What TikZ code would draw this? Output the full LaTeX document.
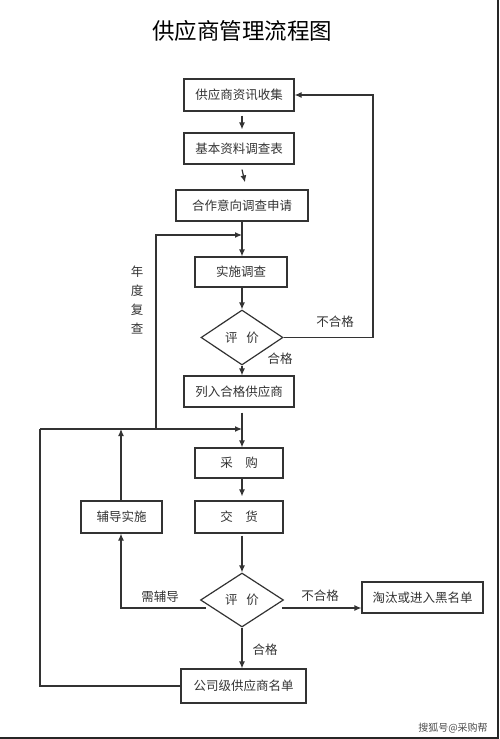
\documentclass[tikz,border=0pt]{standalone}
\usepackage{fontspec}
\setmainfont{Noto Sans CJK SC}
\usetikzlibrary{shapes.geometric,arrows.meta}
\definecolor{ink}{HTML}{333333}
\tikzset{
  box/.style={draw=ink, line width=1.2pt, rectangle, inner sep=0pt, text=ink, font=\fontsize{12.5}{14}\selectfont},
  dia/.style={draw=ink, line width=1.2pt, diamond, aspect=1.5, inner sep=0pt, minimum width=82pt, minimum height=55pt, text=ink, font=\fontsize{12.5}{14}\selectfont},
  lbl/.style={text=ink, inner sep=0pt, font=\fontsize{12.5}{14}\selectfont},
  conn/.style={draw=ink, line width=1.2pt},
  arr/.style={conn, -{Latex[length=7pt,width=6pt]}},
  frame/.style={draw=black!85, line width=1.6pt}
}
\begin{document}
\begin{tikzpicture}[x=1pt,y=-1pt]
\useasboundingbox (0,0) rectangle (499,739);
% frame edges
\coordinate (fr1) at (498,0);
\coordinate (fr2) at (498,738);
\coordinate (fr3) at (0,738);
\draw[frame] (fr1) -- (fr2) -- (fr3);
% title
\node[inner sep=0pt, font=\fontsize{22.5}{24}\selectfont] (title) at (242,31) {供应商管理流程图};
% nodes
\node[box, minimum width=110pt, minimum height=32pt] (b1) at (239,95) {供应商资讯收集};
\node[box, minimum width=110pt, minimum height=31pt] (b2) at (239,148.5) {基本资料调查表};
\node[box, minimum width=132pt, minimum height=31pt] (b3) at (242,205.5) {合作意向调查申请};
\node[box, minimum width=92pt, minimum height=30pt] (b4) at (241,272) {实施调查};
\node[dia] (d1) at (242,337.5) {评\hspace{0.7em}价};
\node[box, minimum width=110pt, minimum height=31pt] (b5) at (239,391.5) {列入合格供应商};
\node[box, minimum width=88pt, minimum height=30pt] (b6) at (239,463) {采\hspace{1em}购};
\node[box, minimum width=88pt, minimum height=32pt] (b7) at (239,517) {交\hspace{1em}货};
\node[box, minimum width=81pt, minimum height=32pt] (bf) at (121.5,517) {辅导实施};
\node[dia, minimum width=83pt, minimum height=54pt] (d2) at (242,600) {评\hspace{0.7em}价};
\node[box, minimum width=121pt, minimum height=31pt] (bt) at (422.5,597.5) {淘汰或进入黑名单};
\node[box, minimum width=125pt, minimum height=34pt] (bc) at (243.5,686) {公司级供应商名单};
% labels
\node[lbl] (l1) at (335,322) {不合格};
\node[lbl] (l2) at (280,359) {合格};
\node[lbl, align=center, font=\fontsize{12.5}{19}\selectfont] (l3) at (137,300.5) {年\\度\\复\\查};
\node[lbl] (l4) at (160,597) {需辅导};
\node[lbl] (l5) at (320,596) {不合格};
\node[lbl] (l6) at (265,650) {合格};
\node[inner sep=0pt, text=black!70, font=\fontsize{10}{12}\selectfont] (wm) at (453,728) {搜狐号@采购帮};
% helper coordinates
\coordinate (j1) at (242,235);
\coordinate (r1) at (373,337.5);
\coordinate (h0) at (40,429);
\coordinate (hy) at (156,429);
\coordinate (hf) at (121,429);
\coordinate (hj) at (242,429);
\coordinate (nf) at (121,608);
% connectors
\draw[arr] ([xshift=3pt,yshift=-4pt]b1.south) -- ([xshift=3pt,yshift=3pt]b2.north);
\draw[arr] ([xshift=3pt,yshift=-5pt]b2.south) -- ([xshift=3pt,yshift=7pt]b3.north);
\draw[arr] (b3.south) -- (b3.south |- b4.north);
\draw[arr] (hy) |- (j1);
\draw[arr] (b4.south -| d1.north) -- (d1.north);
\draw[arr] (d1.east) -- (r1) |- (b1.east);
\draw[arr] (d1.south) -- (d1.south |- b5.north);
\draw[arr] ([yshift=-5pt]b5.south -| hj) -- (hj |- b6.north);
\draw[arr] (h0) -- (hj);
\draw[arr] (bf.north -| hf) -- (hf);
\draw[conn] (bc.west) -| (h0);
\draw[arr] ([xshift=3pt]b6.south) -- ([xshift=3pt,yshift=4pt]b7.north);
\draw[arr] ([xshift=3pt,yshift=-2pt]b7.south) -- (d2.north);
\draw[arr] ([xshift=6pt,yshift=-8pt]d2.west) -- (nf) -- (nf |- bf.south);
\draw[arr] ([xshift=-2pt,yshift=-8pt]d2.east) -- ([yshift=-8pt]d2.east -| bt.west);
\draw[arr] (d2.south) -- (d2.south |- bc.north);
\end{tikzpicture}
\end{document}
